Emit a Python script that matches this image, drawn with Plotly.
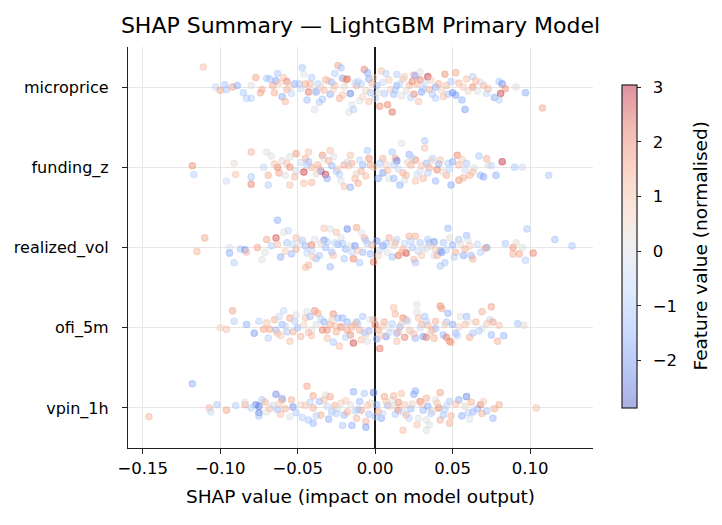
import plotly.graph_objects as go

features = ["vpin_1h", "ofi_5m", "realized_vol", "funding_z", "microprice"]

# each point: (SHAP value, vertical jitter, normalised feature value)
microprice = [(-0.111,0.25,1.0),(-0.103,0.0,-0.5),(-0.100,-0.04,1.5),(-0.097,0.03,-1.0),(-0.096,-0.03,-1.0),(-0.092,0.0,1.5),(-0.089,0.02,-1.5),(-0.085,-0.07,-1.0),(-0.083,-0.14,-0.8),(-0.080,-0.14,-0.8),(-0.080,0.02,0.0),(-0.077,0.12,1.5),(-0.074,-0.07,1.5),(-0.073,-0.03,1.3),(-0.070,0.11,-1.0),(-0.068,0.10,-1.0),(-0.066,0.02,1.5),(-0.065,-0.07,1.3),(-0.064,0.08,-1.7),(-0.063,0.17,-1.0),(-0.060,-0.12,-1.5),(-0.059,0.12,1.0),(-0.058,-0.18,1.2),(-0.057,0.07,2.0),(-0.057,-0.03,1.3),(-0.052,0.04,-1.5),(-0.049,0.04,-1.0),(-0.047,0.24,-1.0),(-0.046,0.16,0.0),(-0.045,0.04,1.3),(-0.043,-0.06,2.2),(-0.042,0.04,1.2),(-0.044,-0.16,-1.2),(-0.039,-0.28,0.0),(-0.039,-0.05,0.0),(-0.038,-0.06,-1.5),(-0.037,0.04,-0.8),(-0.036,-0.19,-0.8),(-0.034,-0.15,-1.0),(-0.032,0.09,1.2),(-0.030,0.08,1.0),(-0.029,-0.09,-1.5),(-0.026,0.17,-0.8),(-0.026,0.02,1.0),(-0.024,0.27,1.5),(-0.022,0.24,-1.0),(-0.023,-0.14,1.3),(-0.021,0.11,-1.7),(-0.019,0.09,1.3),(-0.018,0.10,2.2),(-0.016,-0.08,-2.3),(-0.015,-0.22,0.0),(-0.017,-0.31,0.0),(-0.014,-0.28,-0.8),(-0.012,0.02,1.3),(-0.010,-0.17,0.0),(-0.009,0.04,-0.8),(-0.007,0.22,2.0),(-0.005,0.18,-1.5),(-0.004,0.10,-1.6),(-0.004,-0.18,1.0),(-0.003,-0.07,-1.0),(0.001,0.02,-1.2),(0.002,-0.07,0.0),(0.003,-0.24,1.8),(0.004,0.20,1.0),(0.007,0.17,-0.8),(0.008,-0.22,2.0),(0.011,-0.31,2.3),(0.012,-0.09,-1.2),(0.014,0.02,-1.5),(0.014,0.16,-0.8),(0.017,-0.11,0.0),(0.018,0.10,1.0),(0.022,0.02,1.2),(0.024,0.07,2.0),(0.025,0.15,1.5),(0.025,-0.09,2.0),(0.026,0.14,-1.5),(0.028,-0.18,1.0),(0.029,0.19,0.0),(0.029,0.09,2.0),(0.030,-0.06,-1.7),(0.034,0.13,2.8),(0.035,-0.03,1.3),(0.037,-0.09,-1.0),(0.039,-0.14,-0.8),(0.039,0.0,-1.5),(0.041,0.04,1.3),(0.045,0.16,1.8),(0.046,0.02,1.2),(0.047,-0.09,-1.0),(0.050,-0.07,-2.0),(0.052,0.18,1.5),(0.052,-0.10,-1.8),(0.054,0.05,1.2),(0.056,-0.16,-1.5),(0.058,-0.28,-1.8),(0.059,0.10,1.0),(0.063,0.13,-0.8),(0.063,0.0,1.8),(0.066,-0.05,0.0),(0.070,0.02,1.2),(0.073,-0.02,1.2),(0.077,-0.13,-1.6),(0.080,0.07,-1.0),(0.081,-0.08,2.7),(0.082,0.04,-2.0),(0.084,-0.02,1.8),(0.080,-0.16,-0.8),(0.091,0.0,0.3),(0.097,-0.07,-1.6),(0.108,-0.26,1.5),
    (-0.020,0.0,0.3),(-0.013,0.05,-0.5),(-0.006,-0.04,0.5),(0.005,0.06,-0.3),(0.010,-0.03,0.6),(0.016,0.04,-0.6),(0.020,-0.05,0.2),(-0.027,-0.03,0.6),(0.032,0.05,-0.4),(-0.035,0.0,0.4),(0.043,-0.04,0.5),(-0.048,-0.02,-0.3),(0.060,-0.05,0.5),(-0.055,0.0,0.6),(0.068,0.06,-0.2),(-0.001,0.12,0.5),(0.000,-0.14,-0.4),
    (-0.062,0.05,0.8),(-0.054,-0.08,-0.6),(-0.041,0.12,-0.9),(-0.033,-0.04,1.1),(-0.028,0.06,-1.1),(-0.021,-0.10,0.9),(-0.011,0.07,-0.7),(-0.008,-0.12,0.6),(-0.002,0.05,1.1),(0.006,-0.08,-0.9),(0.009,0.09,0.8),(0.013,-0.04,-1.0),(0.019,0.13,0.5),(0.023,-0.13,-0.7),(0.027,0.04,1.1),(0.031,-0.02,-0.9),(0.036,0.09,0.7),(0.044,-0.12,1.0),(0.049,0.07,-0.9),(0.057,0.00,0.8),(0.065,0.08,1.1),(0.072,-0.08,-0.6)]

funding_z = [(-0.118,0.02,1.8),(-0.117,-0.09,-0.8),(-0.096,-0.17,-0.3),(-0.091,0.05,0.3),(-0.090,-0.09,1.0),(-0.080,0.19,1.2),(-0.080,-0.21,2.0),(-0.080,-0.12,-1.0),(-0.072,0.0,-0.5),(-0.070,0.19,0.0),(-0.067,0.14,0.0),(-0.069,-0.22,-0.8),(-0.069,-0.10,1.3),(-0.063,0.0,2.0),(-0.062,-0.07,1.5),(-0.058,-0.10,0.0),(-0.057,0.05,1.0),(-0.055,0.13,0.0),(-0.055,0.0,1.8),(-0.055,-0.22,1.0),(-0.051,0.17,1.7),(-0.051,-0.05,-0.3),(-0.046,-0.06,2.7),(-0.046,-0.20,1.0),(-0.045,0.11,1.3),(-0.043,0.19,1.0),(-0.043,0.07,-1.2),(-0.041,-0.19,1.2),(-0.041,0.0,1.3),(-0.037,0.03,1.2),(-0.035,-0.05,-2.4),(-0.034,0.15,1.8),(-0.033,0.11,0.0),(-0.032,-0.09,2.7),(-0.031,-0.14,-1.5),(-0.029,0.21,1.0),(-0.028,0.02,-1.3),(-0.027,0.13,0.0),(-0.025,-0.05,-1.0),(-0.022,-0.17,0.0),(-0.020,0.03,1.5),(-0.020,-0.24,1.0),(-0.016,0.15,1.0),(-0.016,-0.25,-1.5),(-0.015,0.05,1.3),(-0.013,-0.14,1.2),(-0.011,-0.20,1.3),(-0.009,-0.05,1.3),(-0.008,0.03,-1.3),(-0.005,0.21,-1.0),(-0.004,0.11,1.8),(-0.003,0.03,1.5),(0.002,-0.14,-1.5),(0.005,-0.07,-1.8),(0.005,0.11,1.3),(0.009,-0.14,0.0),(0.011,0.19,-1.0),(0.012,-0.14,-1.3),(0.013,0.11,1.5),(0.014,0.08,-2.3),(0.016,-0.22,-1.5),(0.017,0.30,0.0),(0.018,-0.07,1.3),(0.019,-0.16,0.0),(0.022,0.16,-1.5),(0.023,0.03,1.3),(0.026,-0.17,1.0),(0.026,0.09,1.8),(0.029,-0.05,0.0),(0.031,-0.14,1.2),(0.032,0.33,-1.0),(0.032,0.24,1.0),(0.033,0.05,-1.3),(0.035,-0.01,1.3),(0.037,0.11,-0.8),(0.039,-0.17,-1.3),(0.040,-0.03,2.0),(0.041,0.04,-1.5),(0.046,-0.10,1.3),(0.047,0.05,-0.8),(0.049,-0.22,-1.6),(0.050,0.07,-1.6),(0.053,0.15,2.0),(0.054,-0.16,1.7),(0.054,0.03,1.2),(0.057,-0.13,1.3),(0.059,0.05,-1.0),(0.061,-0.10,1.2),(0.064,-0.01,0.0),(0.067,0.14,-1.0),(0.068,-0.10,-1.3),(0.070,-0.12,-1.6),(0.072,0.11,1.3),(0.073,0.03,0.3),(0.078,-0.10,-1.5),(0.082,0.07,2.8),(0.090,0.0,-1.0),(0.095,0.0,-0.3),(0.112,-0.10,-1.0),
    (-0.024,-0.02,0.6),(-0.018,0.06,-0.4),(-0.012,-0.08,0.4),(-0.001,0.0,0.8),(0.007,0.03,0.5),(0.015,-0.02,-0.4),(0.021,0.06,0.6),(0.027,-0.09,-0.3),(0.036,0.08,0.4),(0.044,-0.06,0.5),(-0.038,-0.08,0.3),(-0.048,0.06,-0.3),(0.058,-0.03,-0.4),(-0.060,0.08,0.4),
    (-0.065,0.04,0.9),(-0.052,-0.12,1.1),(-0.044,0.03,-0.7),(-0.036,-0.02,1.0),(-0.030,0.08,1.2),(-0.023,-0.09,-0.8),(-0.017,0.02,0.9),(-0.010,0.09,-0.6),(-0.006,-0.11,1.1),(0.003,0.05,-0.9),(0.008,-0.04,1.0),(0.012,0.03,-0.7),(0.020,-0.10,1.1),(0.024,0.12,-0.6),(0.030,0.02,0.9),(0.034,-0.07,-0.8),(0.042,0.09,1.0),(0.048,-0.02,-0.7),(0.056,0.10,0.8),(0.063,-0.06,1.0),(0.075,0.02,-0.6)]

realized_vol = [(-0.115,-0.05,1.2),(-0.110,0.12,1.5),(-0.094,0.0,0.0),(-0.094,-0.07,-1.5),(-0.091,-0.19,-0.8),(-0.087,-0.02,-1.0),(-0.084,-0.03,-2.0),(-0.083,-0.06,1.0),(-0.076,0.0,1.5),(-0.073,-0.15,0.0),(-0.071,-0.06,0.0),(-0.070,0.10,1.5),(-0.064,0.12,2.5),(-0.063,0.34,-1.5),(-0.063,0.04,1.0),(-0.061,-0.12,-1.5),(-0.059,0.19,0.0),(-0.057,0.06,-1.0),(-0.056,0.21,-0.5),(-0.054,-0.08,-1.3),(-0.051,-0.02,1.3),(-0.051,0.12,1.0),(-0.048,0.06,0.0),(-0.045,0.02,-1.3),(-0.045,-0.25,1.0),(-0.043,-0.22,1.2),(-0.044,-0.07,-0.5),(-0.041,0.03,2.0),(-0.039,0.10,0.0),(-0.038,-0.14,-1.0),(-0.036,-0.10,-1.0),(-0.033,0.09,-2.0),(-0.033,0.24,1.0),(-0.032,0.0,-1.3),(-0.029,0.23,0.0),(-0.029,-0.24,-1.3),(-0.028,-0.06,-1.3),(-0.025,0.19,1.0),(-0.024,0.04,-1.5),(-0.022,0.12,0.0),(-0.020,-0.14,-1.0),(-0.019,-0.02,-1.3),(-0.018,0.23,-2.2),(-0.016,0.02,0.0),(-0.014,-0.14,2.0),(-0.013,0.02,-2.0),(-0.012,0.25,1.5),(-0.010,-0.19,-1.0),(-0.009,0.19,0.0),(-0.008,-0.06,-1.3),(-0.007,0.12,1.3),(-0.003,-0.08,-1.3),(-0.002,0.03,1.2),(-0.001,-0.18,2.0),(0.001,0.08,-1.8),(0.005,0.02,-2.0),(0.008,-0.06,0.0),(0.009,0.12,1.3),(0.011,-0.12,-1.0),(0.013,0.06,1.3),(0.015,-0.10,2.2),(0.017,-0.06,1.3),(0.020,-0.07,2.6),(0.022,0.14,1.3),(0.024,0.0,-1.0),(0.025,-0.15,1.2),(0.026,-0.19,-1.0),(0.026,0.14,1.3),(0.029,0.06,-1.0),(0.031,0.0,0.0),(0.033,-0.02,0.0),(0.035,0.06,-1.3),(0.038,-0.10,0.0),(0.038,0.07,-2.0),(0.040,-0.10,1.2),(0.042,-0.04,-1.6),(0.042,-0.23,-1.0),(0.045,-0.19,-1.0),(0.043,-0.06,-2.0),(0.047,0.24,-1.3),(0.048,0.12,0.3),(0.050,0.03,-1.5),(0.052,-0.06,1.3),(0.054,0.10,-1.0),(0.057,-0.10,-1.6),(0.058,-0.02,1.3),(0.059,0.15,-1.3),(0.060,0.09,0.0),(0.062,-0.10,-1.3),(0.063,-0.14,1.3),(0.072,0.0,-1.8),(0.071,-0.01,1.3),(0.084,0.05,-1.0),(0.089,0.0,1.8),(0.089,-0.08,1.3),(0.091,0.06,0.3),(0.093,-0.08,1.5),(0.095,0.0,0.0),(0.097,-0.16,-0.8),(0.098,0.23,-1.0),(0.102,-0.07,2.0),(0.116,0.10,-1.2),(0.127,0.02,-1.0),
    (-0.026,0.06,-0.6),(-0.015,-0.06,-0.5),(-0.005,0.05,-0.7),(0.003,-0.03,-0.4),(0.012,0.02,0.4),(0.019,0.05,-0.6),(0.028,-0.05,-0.5),(0.036,0.02,0.4),(-0.035,0.05,0.3),(-0.041,-0.04,-0.6),(0.046,-0.03,-0.7),(0.055,0.05,0.3),(-0.053,0.04,-0.6),(0.066,0.04,-0.6),
    (-0.067,0.02,-0.8),(-0.058,-0.05,0.7),(-0.047,0.09,-0.9),(-0.040,-0.12,0.8),(-0.031,0.07,-0.8),(-0.027,-0.10,0.9),(-0.021,0.05,-1.0),(-0.011,-0.04,0.8),(-0.006,0.09,-0.9),(0.002,-0.10,0.7),(0.007,0.05,-1.0),(0.014,0.10,-0.6),(0.018,-0.02,1.0),(0.023,0.08,-0.8),(0.030,-0.10,0.8),(0.034,0.10,-0.9),(0.039,-0.02,0.7),(0.044,0.06,-1.0),(0.051,-0.12,-0.7),(0.061,0.02,0.8),(0.068,-0.06,-0.8)]

ofi_5m = [(-0.100,0.0,0.5),(-0.096,-0.02,1.0),(-0.092,0.21,1.5),(-0.091,0.08,-0.8),(-0.083,0.04,-1.5),(-0.078,-0.07,-1.8),(-0.075,0.08,-0.8),(-0.072,-0.02,1.5),(-0.069,-0.13,-0.8),(-0.068,-0.02,1.5),(-0.065,0.10,1.3),(-0.064,-0.03,-1.3),(-0.063,-0.07,1.0),(-0.062,0.14,-0.5),(-0.060,0.04,-1.3),(-0.059,0.21,-0.5),(-0.057,-0.05,-1.0),(-0.055,0.12,1.5),(-0.055,-0.17,1.0),(-0.053,-0.05,1.3),(-0.051,0.16,0.0),(-0.050,0.0,-1.3),(-0.048,-0.11,1.2),(-0.045,0.12,1.0),(-0.044,0.20,0.0),(-0.042,0.14,-1.3),(-0.041,-0.03,0.0),(-0.041,-0.10,1.0),(-0.039,0.21,1.8),(-0.037,0.18,1.5),(-0.038,0.04,0.0),(-0.034,-0.03,2.0),(-0.033,0.07,-1.5),(-0.031,-0.03,1.8),(-0.031,-0.13,1.0),(-0.029,0.04,1.3),(-0.027,0.17,1.8),(-0.027,-0.18,-1.0),(-0.025,-0.05,1.3),(-0.024,0.12,-1.2),(-0.023,-0.23,1.0),(-0.022,0.01,2.0),(-0.021,0.12,-1.3),(-0.018,0.07,-1.3),(-0.018,-0.03,1.5),(-0.016,-0.09,1.8),(-0.015,0.01,1.3),(-0.014,-0.19,2.6),(-0.012,0.07,-1.3),(-0.010,-0.03,1.3),(-0.009,-0.15,1.0),(-0.008,0.14,-1.0),(-0.005,-0.17,0.0),(-0.004,-0.04,-1.3),(-0.003,0.10,0.0),(0.000,0.04,2.0),(0.001,-0.14,-1.6),(0.002,-0.03,1.5),(0.003,-0.26,2.2),(0.006,0.07,1.3),(0.007,-0.11,-2.0),(0.010,-0.01,0.0),(0.012,0.25,1.0),(0.013,0.17,1.2),(0.014,-0.07,-1.5),(0.016,0.01,-1.3),(0.014,-0.17,1.0),(0.018,0.12,1.8),(0.019,-0.12,2.0),(0.020,0.10,1.3),(0.023,-0.04,0.0),(0.026,-0.13,-1.3),(0.027,0.29,0.0),(0.027,0.19,0.0),(0.028,0.12,1.0),(0.030,0.04,1.3),(0.031,-0.11,-1.8),(0.032,0.14,-1.0),(0.033,-0.12,2.1),(0.034,0.03,1.2),(0.038,-0.13,1.3),(0.039,0.08,1.3),(0.039,-0.01,-1.3),(0.042,0.27,1.8),(0.043,0.24,1.5),(0.044,-0.09,-1.3),(0.046,0.07,-1.0),(0.047,0.18,-1.5),(0.046,-0.12,2.0),(0.048,-0.17,1.8),(0.049,-0.18,1.5),(0.050,0.04,-1.6),(0.052,-0.07,-1.3),(0.055,0.14,0.0),(0.059,0.14,-1.3),(0.060,0.08,0.0),(0.061,-0.12,1.3),(0.063,-0.07,-1.0),(0.065,0.07,1.2),(0.069,0.20,1.3),(0.069,-0.01,0.0),(0.074,0.10,-0.5),(0.075,-0.09,-1.3),(0.075,0.26,1.6),(0.076,0.07,1.5),(0.079,-0.17,1.3),(0.080,0.03,1.0),(0.083,-0.10,-1.4),(0.092,0.05,-1.2),(0.096,0.03,0.3),
    (-0.020,0.0,0.6),(-0.011,0.05,-0.4),(-0.006,-0.08,0.5),(0.005,0.02,0.7),(0.009,-0.06,-0.3),(0.017,0.05,0.5),(0.022,-0.03,0.7),(0.029,0.0,-0.3),(-0.028,0.09,0.4),(-0.046,0.03,0.5),(0.036,-0.05,0.5),(0.054,0.01,0.6),(-0.058,0.02,-0.4),
    (-0.070,0.06,1.0),(-0.061,-0.10,0.8),(-0.052,0.08,-0.8),(-0.043,-0.06,1.1),(-0.035,0.11,-0.7),(-0.026,0.02,1.0),(-0.019,-0.12,-0.8),(-0.013,0.04,1.1),(-0.007,-0.06,-0.9),(-0.001,0.10,1.0),(0.004,-0.10,0.8),(0.011,0.05,-0.8),(0.015,-0.05,1.1),(0.021,0.08,-0.6),(0.025,-0.08,1.0),(0.033,0.08,-0.7),(0.037,-0.03,1.1),(0.045,0.04,0.8),(0.053,-0.10,-0.7),(0.058,0.04,1.0),(0.067,-0.04,-0.8),(0.072,0.05,0.9)]

vpin_1h = [(-0.146,-0.11,1.2),(-0.118,0.30,-1.5),(-0.107,0.0,1.2),(-0.106,-0.05,-0.5),(-0.102,0.04,-1.0),(-0.096,-0.03,1.5),(-0.090,0.03,-0.8),(-0.084,0.04,1.5),(-0.084,0.07,0.0),(-0.077,0.04,-2.2),(-0.075,0.02,-2.3),(-0.075,-0.06,-2.3),(-0.075,-0.10,-1.0),(-0.073,0.10,-1.0),(-0.071,0.07,1.2),(-0.070,-0.05,0.0),(-0.068,-0.01,1.0),(-0.064,0.17,-2.1),(-0.063,-0.02,-1.3),(-0.061,-0.08,1.0),(-0.060,0.10,1.6),(-0.060,0.12,-1.3),(-0.058,-0.01,1.3),(-0.055,-0.11,0.0),(-0.054,0.10,1.3),(-0.053,0.01,-2.0),(-0.047,-0.12,-0.8),(-0.044,0.27,1.5),(-0.043,-0.15,-1.0),(-0.042,0.07,-0.8),(-0.040,0.15,1.5),(-0.040,-0.19,-1.3),(-0.040,0.0,1.3),(-0.036,0.08,-1.3),(-0.035,-0.09,1.3),(-0.032,0.16,0.0),(-0.030,-0.14,-1.5),(-0.029,0.14,1.5),(-0.028,-0.05,-1.0),(-0.026,0.03,1.3),(-0.024,-0.01,0.0),(-0.021,-0.22,-1.0),(-0.020,-0.09,-1.3),(-0.018,-0.05,1.3),(-0.016,0.04,0.0),(-0.015,-0.22,-1.5),(-0.014,0.20,-1.5),(-0.012,-0.13,1.2),(-0.010,0.08,-1.3),(-0.009,-0.03,1.6),(-0.007,0.18,-1.0),(-0.006,-0.17,1.2),(-0.006,-0.24,-1.8),(-0.004,-0.08,-1.0),(-0.001,0.19,-2.3),(0.001,0.04,-1.3),(0.002,-0.05,1.5),(0.004,-0.13,-1.6),(0.006,0.14,1.5),(0.008,0.03,-1.3),(0.011,0.10,0.0),(0.012,0.15,1.2),(0.014,0.0,0.0),(0.015,0.07,1.8),(0.015,-0.03,1.9),(0.017,0.18,1.0),(0.018,-0.28,1.0),(0.020,-0.09,1.3),(0.023,-0.01,-1.4),(0.025,0.17,-1.6),(0.026,0.21,-1.5),(0.027,-0.21,1.0),(0.028,-0.13,0.0),(0.029,0.08,2.0),(0.031,-0.03,-1.3),(0.033,0.12,1.3),(0.033,-0.15,0.0),(0.033,-0.28,0.0),(0.034,0.02,-1.6),(0.035,-0.21,0.0),(0.039,0.10,0.0),(0.041,0.0,2.0),(0.042,0.19,1.5),(0.042,-0.15,1.3),(0.044,-0.09,-1.0),(0.048,-0.19,1.3),(0.048,0.08,-1.0),(0.049,-0.10,1.2),(0.054,0.10,-1.6),(0.056,-0.10,-1.5),(0.059,0.14,-2.2),(0.061,-0.14,0.0),(0.062,0.07,1.3),(0.063,-0.05,-1.3),(0.066,-0.01,-1.4),(0.068,0.04,2.0),(0.069,-0.07,1.3),(0.072,-0.04,-1.0),(0.076,-0.13,-1.3),(0.077,-0.01,1.3),(0.080,0.04,1.3),(0.104,0.0,1.0),
    (-0.022,0.06,0.5),(-0.013,-0.04,-0.5),(-0.003,0.06,0.4),(0.005,-0.07,-0.4),(0.010,0.02,0.6),(0.018,-0.05,-0.4),(0.024,0.05,0.5),(-0.031,0.02,-0.5),(0.037,-0.04,0.5),(-0.048,0.04,0.4),(0.046,0.03,-0.5),(-0.066,0.03,-0.4),(0.058,0.02,0.5),
    (-0.080,0.00,-0.8),(-0.062,0.05,0.8),(-0.051,-0.06,-0.9),(-0.045,0.03,0.9),(-0.038,-0.10,-0.7),(-0.033,0.10,1.0),(-0.025,-0.07,-0.9),(-0.019,0.09,0.8),(-0.011,-0.02,-1.0),(-0.005,0.03,0.9),(0.000,-0.11,-0.8),(0.007,0.08,0.8),(0.013,-0.08,-0.9),(0.019,0.04,1.0),(0.022,-0.13,-0.6),(0.030,0.05,0.9),(0.036,-0.07,-0.9),(0.040,0.06,0.8),(0.045,-0.02,-0.8),(0.052,0.05,1.0),(0.060,-0.06,-0.8),(0.070,0.08,0.7)]

x_ticks = [-0.15, -0.10, -0.05, 0.00, 0.05, 0.10]
cbar_ticks = [-2, -1, 0, 1, 2, 3]

rows = [vpin_1h, ofi_5m, realized_vol, funding_z, microprice]

xs, ys, cs = [], [], []
for i, pts in enumerate(rows):
    for sv, jit, fv in pts:
        xs.append(sv)
        ys.append(i + jit)
        cs.append(fv)

A = 0.44
coolwarm = [
    [0.000, f"rgba(59,76,192,{A})"],
    [0.125, f"rgba(98,130,234,{A})"],
    [0.250, f"rgba(141,176,254,{A})"],
    [0.375, f"rgba(184,208,249,{A})"],
    [0.500, f"rgba(221,221,221,{A})"],
    [0.625, f"rgba(245,196,173,{A})"],
    [0.750, f"rgba(244,154,123,{A})"],
    [0.875, f"rgba(222,96,77,{A})"],
    [1.000, f"rgba(180,4,38,{A})"],
]
clear = [[0, "rgba(0,0,0,0)"], [1, "rgba(0,0,0,0)"]]
CMIN, CMAX = -2.87, 3.04

cb_common = dict(thickness=15, lenmode="pixels", len=323,
                 x=1.0617, xanchor="left", y=0.5025, yanchor="middle",
                 xpad=0, ypad=0, tickvals=cbar_ticks)

fig = go.Figure()
fig.add_trace(go.Scatter(
    x=xs, y=ys, mode="markers", hoverinfo="skip",
    marker=dict(
        size=6.5, color=cs, colorscale=coolwarm, cmin=CMIN, cmax=CMAX,
        line=dict(width=1.1, color=cs, colorscale=coolwarm, cmin=CMIN, cmax=CMAX),
        showscale=True,
        colorbar=dict(**cb_common,
                      outlinecolor="#222222", outlinewidth=1.2,
                      ticks="outside", ticklen=4, tickcolor="#222222",
                      showticklabels=False),
    ),
    showlegend=False,
))
# second, transparent colour bar that only carries the tick labels (with extra gap)
fig.add_trace(go.Scatter(
    x=[None, None], y=[None, None], mode="markers", hoverinfo="skip",
    marker=dict(
        color=[CMIN, CMAX], colorscale=clear, cmin=CMIN, cmax=CMAX,
        showscale=True,
        colorbar=dict(**cb_common, outlinewidth=0,
                      ticks="outside", ticklen=13, tickcolor="rgba(0,0,0,0)",
                      tickfont=dict(size=16.5, color="black")),
    ),
    showlegend=False,
))

fig.add_annotation(
    text="Feature value (normalised)", textangle=-90,
    x=(700 - 128) / 465, y=0.5025, xref="paper", yref="paper",
    xanchor="center", yanchor="middle", showarrow=False,
    font=dict(size=18.5, color="black"),
)

fig.update_layout(
    width=722, height=525,
    margin=dict(l=128, r=129, t=47, b=77),
    plot_bgcolor="white", paper_bgcolor="white",
    font=dict(family="DejaVu Sans", color="black"),
    title=dict(text="SHAP Summary — LightGBM Primary Model", x=0.5, xref="paper",
               xanchor="center", y=1 - 25/525, yref="container", yanchor="middle",
               font=dict(size=22, color="black")),
    xaxis=dict(
        range=[-0.1595, 0.1406], tickvals=x_ticks, tickformat=".2f",
        showgrid=True, gridcolor="#e6e6e6", gridwidth=1,
        zeroline=True, zerolinecolor="#1a1a1a", zerolinewidth=1.8,
        showline=True, linecolor="#222222", linewidth=1.2,
        ticks="outside", ticklen=5, tickcolor="#222222",
        tickfont=dict(size=16.5),
        title=dict(text="SHAP value (impact on model output)", font=dict(size=18.5), standoff=13),
        automargin=False,
    ),
    yaxis=dict(
        range=[-0.5, 4.5], tickvals=list(range(len(features))), ticktext=features,
        showgrid=True, gridcolor="#e6e6e6", gridwidth=1, zeroline=False,
        showline=True, linecolor="#222222", linewidth=1.2,
        ticks="outside", ticklen=5, tickcolor="#222222",
        ticklabelstandoff=10,
        tickfont=dict(size=16),
        automargin=False,
    ),
)

fig.write_html("out.html")
